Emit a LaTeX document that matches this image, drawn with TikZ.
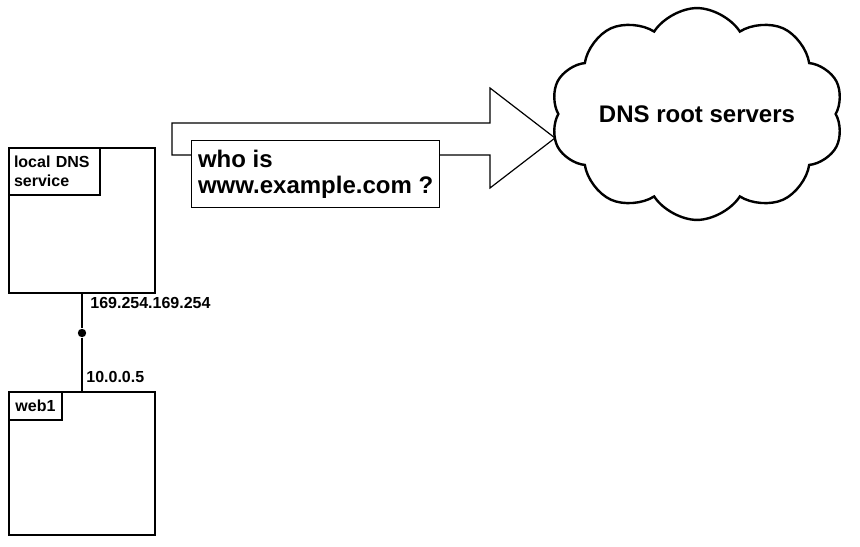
\documentclass[tikz,border=0pt]{standalone}
\usepackage{fontspec}
\setmainfont{Liberation Sans}
\usetikzlibrary{shapes.symbols,positioning}

\tikzset{
	caja/.style={draw, line width=1pt, rectangle, anchor=north west, inner sep=0pt, outer sep=0pt},
	etiq/.style={draw, line width=1pt, rectangle, anchor=north west, outer sep=0pt,
		font=\fontsize{8}{9.5}\selectfont\bfseries},
	dir/.style={anchor=base west, inner sep=0pt, font=\fontsize{8}{9.5}\selectfont\bfseries},
	punto/.style={circle, fill=black, inner sep=0pt, minimum size=4.2pt}
}

\begin{document}
\begin{tikzpicture}[x=0.5pt,y=-0.5pt]
\useasboundingbox (0,0) rectangle (860,546);

%%%%%%%%%%%%%%%%%%%%%%%%%%%%%%%%%%%%%%%%%%%%%%%%	CAJAS (servidor DNS local y web1)
\node[caja, minimum width=73pt, minimum height=72.5pt] (dns) at (9,148) {};
\node[etiq, align=left, text width=40.5pt, inner xsep=2.5pt, inner ysep=0pt,
	minimum height=23.5pt] (dnslbl) at (dns.north west) {local DNS\\service};

\node[caja, minimum width=73pt, minimum height=71.5pt] (web) at (9,392) {};
\node[etiq, minimum width=26.5pt, minimum height=14pt, inner sep=0pt]
	(weblbl) at (web.north west) {web1};

%%%%%%%%%%%%%%%%%%%%%%%%%%%%%%%%%%%%%%%%%%%%%%%%	ENLACE
\node[punto] (nic) at (dns.south |- 0,333) {};		%%%%	punto de la interfaz
\draw[line width=1pt] (dns.south) -- (nic) -- (web.north);
\node[dir] (ipdns) at (90,308) {169.254.169.254};
\node[dir] (ipweb) at (86,382) {10.0.0.5};

%%%%%%%%%%%%%%%%%%%%%%%%%%%%%%%%%%%%%%%%%%%%%%%%	FLECHA (consulta)
\draw[line width=0.6pt, fill=white]
(172,123) -- (490,123) -- (490,88) -- (555,138)	%%%%	punta de la flecha
-- (490,188) -- (490,155) -- (172,155) -- cycle;

\node[draw, line width=0.6pt, fill=white, anchor=north west, align=left,
	minimum width=124pt, inner xsep=0pt, inner ysep=0pt, minimum height=33.5pt,
	font=\fontsize{12}{13}\selectfont\bfseries] (pregunta) at (191,140)
	{who is\\www.example.com ?};

%%%%%%%%%%%%%%%%%%%%%%%%%%%%%%%%%%%%%%%%%%%%%%%%	NUBE
\node[cloud, draw, line width=1.2pt, cloud puffs=10, cloud puff arc=115,
	aspect=1.6, minimum width=126pt, minimum height=79pt, inner sep=0pt,
	font=\fontsize{12}{13}\selectfont\bfseries] (raiz) at (697,114)
	{DNS root servers};

\end{tikzpicture}
\end{document}
